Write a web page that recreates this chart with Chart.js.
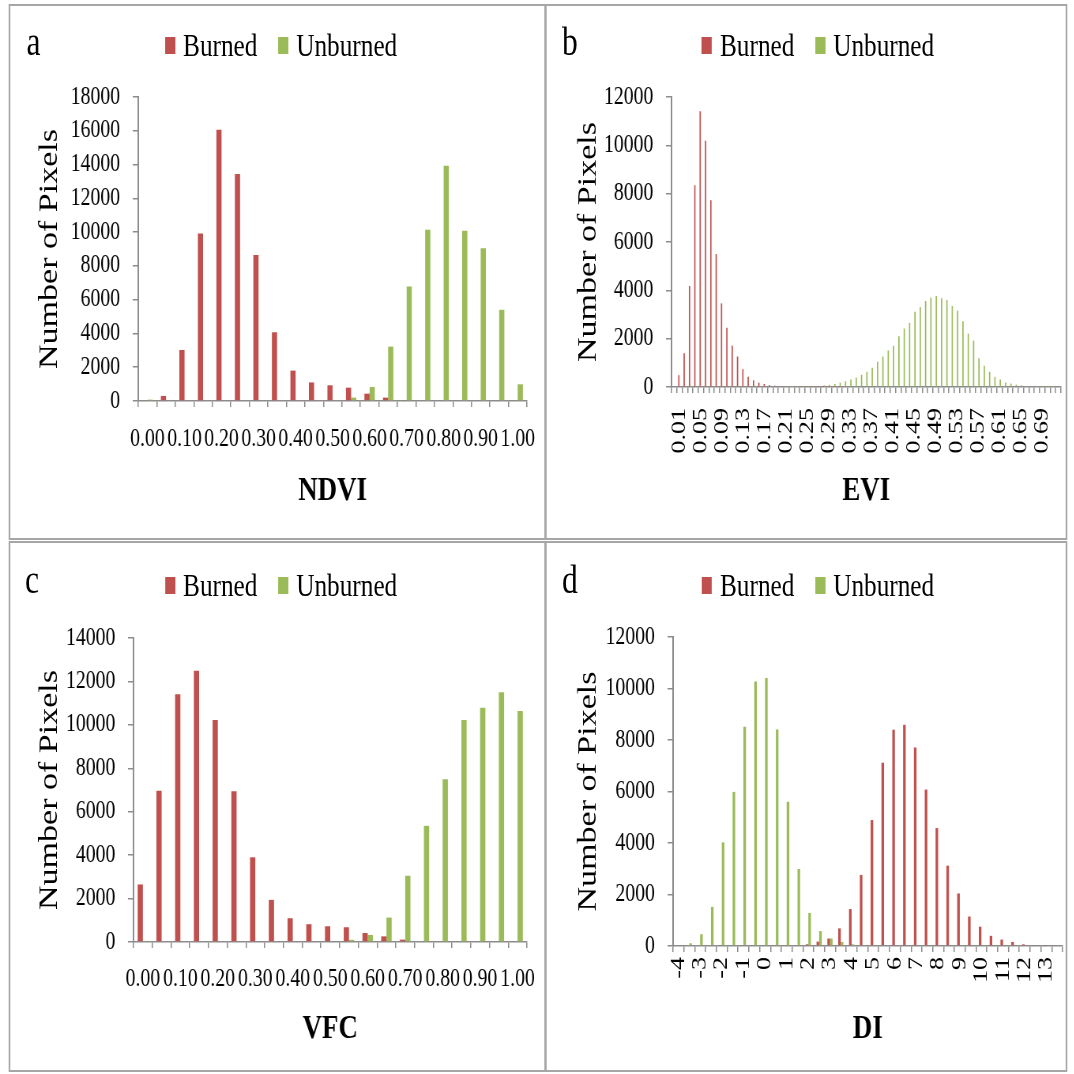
<!DOCTYPE html>
<html>
<head>
<meta charset="utf-8">
<title>Burned / Unburned pixel histograms</title>
<script src="https://cdn.jsdelivr.net/npm/chart.js@4.4.1/dist/chart.umd.min.js"></script>
<style>
  html, body { margin: 0; padding: 0; background: #fff; overflow: hidden; }
  /* the original figure is squeezed sideways, so the whole sheet is laid out wide and scaled in x */
  #figure {
    position: relative;
    width: 1360px;
    height: 1074px;
    transform: scaleX(0.79);
    transform-origin: 0 0;
    font-family: "Liberation Serif", "Times New Roman", serif;
    color: #000;
  }
  .panel { position: absolute; box-shadow: 0 0 0 2px #a6a6a6; background: #fff; }
  .panel canvas { position: absolute; left: 0; top: 0; }
  .tag { position: absolute; left: 21px; top: 16px; font-size: 40px; line-height: 40px; }
  .legend { position: absolute; left: 196px; display: flex; align-items: center; font-size: 32px; line-height: 32px; }
  .key { width: 13px; height: 17px; margin-right: 10px; }
  .key.burned { background: #c0504d; }
  .key.unburned { background: #9bbb59; margin-left: 26px; }
</style>
</head>
<body>
<div id="figure">
  <div class="panel" style="left:12.7px; top:6px; width:676px; height:532px;">
    <canvas id="ndviChart" width="676" height="532"></canvas>
    <div class="tag">a</div>
    <div class="legend" style="top:23px;"><span class="key burned"></span>Burned<span class="key unburned"></span>Unburned</div>
  </div>
  <div class="panel" style="left:692.4px; top:6px; width:657px; height:532px;">
    <canvas id="eviChart" width="657" height="532"></canvas>
    <div class="tag" style="left:19px;">b</div>
    <div class="legend" style="top:23px;"><span class="key burned"></span>Burned<span class="key unburned"></span>Unburned</div>
  </div>
  <div class="panel" style="left:12.7px; top:543px; width:676px; height:527px;">
    <canvas id="vfcChart" width="676" height="527"></canvas>
    <div class="tag" style="left:19px; top:17px;">c</div>
    <div class="legend" style="top:26px;"><span class="key burned"></span>Burned<span class="key unburned"></span>Unburned</div>
  </div>
  <div class="panel" style="left:692.4px; top:543px; width:657px; height:527px;">
    <canvas id="diChart" width="657" height="527"></canvas>
    <div class="tag" style="left:19px; top:17px;">d</div>
    <div class="legend" style="top:26px;"><span class="key burned"></span>Burned<span class="key unburned"></span>Unburned</div>
  </div>
</div>

<script>
// ---- data ----

// NDVI and VFC share the same 0.05 bins
const fractionBins = ["0.00", "0.05", "0.10", "0.15", "0.20", "0.25", "0.30", "0.35", "0.40", "0.45",
  "0.50", "0.55", "0.60", "0.65", "0.70", "0.75", "0.80", "0.85", "0.90", "0.95", "1.00"];

const burnedNdvi = [0, 300, 3020, 9920, 16060, 13440, 8650, 4070, 1800, 1100,
  930, 790, 435, 200, 50, 0, 0, 0, 0, 0, 0];
const unburnedNdvi = [80, 0, 0, 0, 0, 0, 0, 0, 0, 0,
  40, 200, 830, 3220, 6780, 10140, 13930, 10080, 9050, 5400, 990];

const burnedVfc = [2650, 6970, 11410, 12490, 10220, 6940, 3900, 1940, 1095, 820,
  725, 680, 415, 260, 110, 0, 0, 0, 0, 0, 0];
const unburnedVfc = [50, 0, 0, 0, 0, 0, 0, 0, 0, 0,
  0, 100, 325, 1125, 3050, 5350, 7490, 10220, 10790, 11500, 10640];

// EVI uses 0.01 bins
const eviBins = [
  "0.00", "0.01", "0.02", "0.03", "0.04", "0.05", "0.06", "0.07", "0.08", "0.09",
  "0.10", "0.11", "0.12", "0.13", "0.14", "0.15", "0.16", "0.17", "0.18", "0.19",
  "0.20", "0.21", "0.22", "0.23", "0.24", "0.25", "0.26", "0.27", "0.28", "0.29",
  "0.30", "0.31", "0.32", "0.33", "0.34", "0.35", "0.36", "0.37", "0.38", "0.39",
  "0.40", "0.41", "0.42", "0.43", "0.44", "0.45", "0.46", "0.47", "0.48", "0.49",
  "0.50", "0.51", "0.52", "0.53", "0.54", "0.55", "0.56", "0.57", "0.58", "0.59",
  "0.60", "0.61", "0.62", "0.63", "0.64", "0.65", "0.66", "0.67", "0.68", "0.69",
  "0.70", "0.71", "0.72"];
const burnedEvi = [
  0, 490, 1400, 4180, 8350, 11410, 10190, 7730, 5500, 3460,
  2450, 1710, 1260, 740, 420, 280, 180, 125, 85, 56,
  42, 30, 28, 20, 15, 12, 10, 8, 6, 4,
  3, 2, 0, 0, 0, 0, 0, 0, 0, 0,
  0, 0, 0, 0, 0, 0, 0, 0, 0, 0,
  0, 0, 0, 0, 0, 0, 0, 0, 0, 0,
  0, 0, 0, 0, 0, 0, 0, 0, 0, 0,
  0, 0, 0];
const unburnedEvi = [
  0, 0, 0, 0, 0, 0, 0, 0, 0, 0,
  0, 0, 0, 0, 0, 0, 0, 0, 0, 0,
  0, 0, 4, 6, 8, 12, 20, 42, 70, 98,
  126, 182, 238, 308, 392, 504, 630, 798, 1050, 1260,
  1512, 1708, 2100, 2420, 2655, 3115, 3310, 3560, 3700, 3765,
  3670, 3600, 3350, 3170, 2725, 2210, 1920, 1190, 880, 630,
  420, 308, 182, 140, 98, 70, 42, 28, 14, 8,
  4, 2, 0];

// DI uses 0.5 bins
const diBins = ["-4", "-3.5", "-3", "-2.5", "-2", "-1.5", "-1", "-0.5", "0", "0.5",
  "1", "1.5", "2", "2.5", "3", "3.5", "4", "4.5", "5", "5.5",
  "6", "6.5", "7", "7.5", "8", "8.5", "9", "9.5", "10", "10.5",
  "11", "11.5", "12", "12.5", "13", "13.5"];
const burnedDi = [0, 0, 0, 0, 0, 0, 0, 0, 0, 0,
  0, 0, 66, 170, 290, 685, 1435, 2760, 4890, 7120,
  8400, 8590, 7710, 6075, 4580, 3120, 2040, 1145, 750, 395,
  250, 158, 66, 40, 15, 0];
const unburnedDi = [0, 105, 460, 1520, 4025, 5985, 8515, 10270, 10410, 8410,
  5600, 2990, 1280, 580, 290, 158, 66, 20, 0, 0,
  0, 0, 0, 0, 0, 0, 0, 0, 0, 0,
  0, 0, 0, 0, 0, 0];

// ---- drawing ----
const RED = "#c0504d";
const GREEN = "#9bbb59";
const AXIS = "#8c8c8c";

Chart.defaults.font.family = '"Liberation Serif", "Times New Roman", serif';
Chart.defaults.color = "#000";

function histogram(id, o) {
  return new Chart(document.getElementById(id), {
    type: "bar",
    data: {
      labels: o.labels,
      datasets: [
        { label: "Burned", data: o.burned, backgroundColor: RED },
        { label: "Unburned", data: o.unburned, backgroundColor: GREEN },
      ],
    },
    options: {
      responsive: false,
      animation: false,
      devicePixelRatio: 1,
      layout: { padding: o.pad },
      datasets: { bar: { barPercentage: 1, categoryPercentage: o.catPct } },
      plugins: { legend: { display: false }, tooltip: { enabled: false } },
      scales: {
        x: {
          grid: { drawOnChartArea: false, color: AXIS, lineWidth: 1.5, tickLength: 6 },
          border: { color: AXIS, width: 1.5 },
          ticks: {
            autoSkip: false,
            minRotation: o.rot,
            maxRotation: o.rot,
            padding: o.xPad,
            font: { size: o.xFont },
            callback: (v, i) => (o.showLabel(i) ? o.labels[i] : ""),
          },
          title: {
            display: true,
            text: o.title,
            font: { size: 34, weight: "bold" },
            padding: { top: 0, bottom: o.titlePad },
          },
          // fixed band under the plot; labels may run into the side margin like in Excel
          afterFit: (s) => {
            s.height = o.xHeight;
            s.paddingLeft = 0;
            s.paddingRight = 0;
          },
        },
        y: {
          min: 0,
          max: o.yMax,
          grid: { drawOnChartArea: false, color: AXIS, lineWidth: 1.5, tickLength: 7 },
          border: { color: AXIS, width: 2 },
          ticks: { stepSize: 2000, padding: 16, font: { size: 25 }, callback: (v) => String(v) },
          title: {
            display: true,
            text: "Number of Pixels",
            font: { size: 34 },
            padding: { top: o.yTitlePad, bottom: 0 },
          },
          afterFit: (s) => { s.width = o.yWidth; },
        },
      },
    },
  });
}

// a - NDVI
histogram("ndviChart", {
  labels: fractionBins, burned: burnedNdvi, unburned: unburnedNdvi,
  title: "NDVI", yMax: 18000, catPct: 0.56, rot: 0, xFont: 25,
  showLabel: (i) => i % 2 === 0,
  pad: { top: 91, right: 22, bottom: 0, left: 0 },
  yWidth: 162, xHeight: 137, xPad: 17, titlePad: 26, yTitlePad: 30,
});

// b - EVI
histogram("eviChart", {
  labels: eviBins, burned: burnedEvi, unburned: unburnedEvi,
  title: "EVI", yMax: 12000, catPct: 0.5, rot: 90, xFont: 26,
  showLabel: (i) => i % 4 === 1,
  pad: { top: 91, right: 6, bottom: 0, left: 0 },
  yWidth: 158, xHeight: 151, xPad: 15, titlePad: 26, yTitlePad: 33,
});

// c - VFC
histogram("vfcChart", {
  labels: fractionBins, burned: burnedVfc, unburned: unburnedVfc,
  title: "VFC", yMax: 14000, catPct: 0.56, rot: 0, xFont: 25,
  showLabel: (i) => i % 2 === 0,
  pad: { top: 95, right: 22, bottom: 0, left: 0 },
  yWidth: 156, xHeight: 128, xPad: 16, titlePad: 20, yTitlePad: 30,
});

// d - DI
histogram("diChart", {
  labels: diBins, burned: burnedDi, unburned: unburnedDi,
  title: "DI", yMax: 12000, catPct: 0.48, rot: 90, xFont: 26,
  showLabel: (i) => i % 2 === 0,
  pad: { top: 94, right: 4, bottom: 0, left: 0 },
  yWidth: 160, xHeight: 124, xPad: 5, titlePad: 20, yTitlePad: 33,
});
</script>
</body>
</html>
